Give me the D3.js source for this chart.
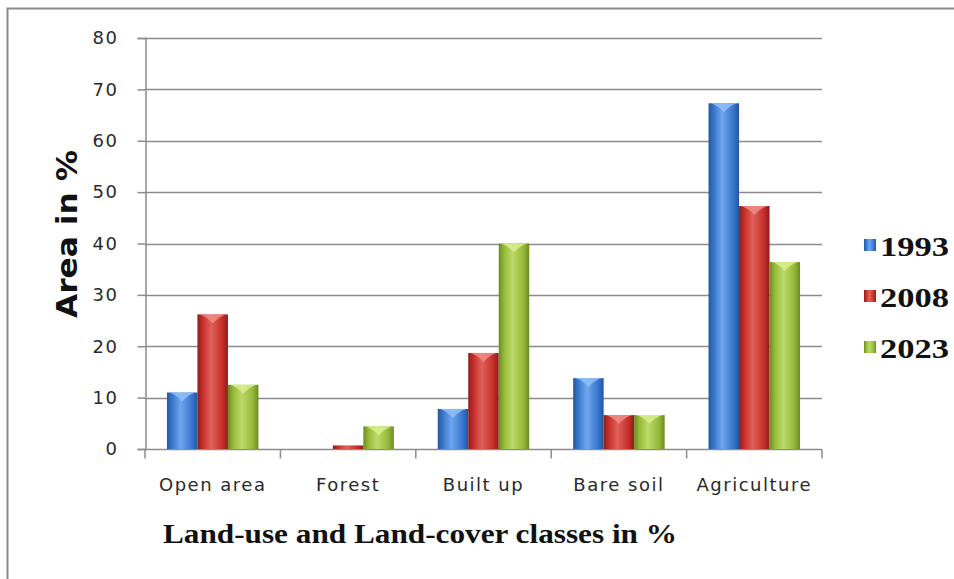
<!DOCTYPE html>
<html>
<head>
<meta charset="utf-8">
<script src="https://cdn.jsdelivr.net/npm/d3@7"></script>
<style>
  html, body { margin: 0; padding: 0; background: #fff; }
  svg { display: block; }
</style>
</head>
<body>
<svg id="chart" width="954" height="579"></svg>
<script>
// Land-use / land-cover share per class and year
const categories = ["Open area", "Forest", "Built up", "Bare soil", "Agriculture"];
const years = ["1993", "2008", "2023"];
const values1993 = [11, 0, 7.8, 13.8, 67.3];
const values2008 = [26.2, 0.7, 18.7, 6.6, 47.3];
const values2023 = [12.5, 4.4, 40, 6.6, 36.4];
const yTicks = [0, 10, 20, 30, 40, 50, 60, 70, 80];

const seriesValues = [values1993, values2008, values2023];
const colors = [
  { base: "#3a78cf", light: "#6fa6ee", dark: "#23579e", top: "#8fc0f5" },
  { base: "#c8302b", light: "#e0615b", dark: "#8f1c19", top: "#ee8d87" },
  { base: "#97bb3a", light: "#bcd96a", dark: "#6c8a22", top: "#d8ef8c" }
];

const svg = d3.select("#chart");
const plot = { left: 145, right: 822, top: 38, bottom: 449 };

// Outer frame
svg.append("rect")
  .attr("x", 7.5).attr("y", 8.5)
  .attr("width", 960).attr("height", 600)
  .attr("fill", "#fff").attr("stroke", "#8a8a8a").attr("stroke-width", 2);

const x0 = d3.scaleBand().domain(categories).range([plot.left, plot.right]).paddingInner(0).paddingOuter(0);
const x1 = d3.scaleBand().domain(years).range([0, x0.bandwidth()]).paddingInner(0).paddingOuter(0.72);
const y = d3.scaleLinear().domain([0, 80]).range([plot.bottom, plot.top]);

// Gradients for cylinder-like bars
const defs = svg.append("defs");
colors.forEach((c, i) => {
  const g = defs.append("linearGradient").attr("id", "grad" + i)
    .attr("x1", "0%").attr("x2", "100%").attr("y1", "0%").attr("y2", "0%");
  g.append("stop").attr("offset", "0%").attr("stop-color", c.dark);
  g.append("stop").attr("offset", "18%").attr("stop-color", c.base);
  g.append("stop").attr("offset", "45%").attr("stop-color", c.light);
  g.append("stop").attr("offset", "80%").attr("stop-color", c.base);
  g.append("stop").attr("offset", "100%").attr("stop-color", c.dark);
});

// Horizontal gridlines
svg.append("g").selectAll("line").data(yTicks.filter(d => d > 0)).join("line")
  .attr("x1", plot.left).attr("x2", plot.right)
  .attr("y1", d => Math.round(y(d)) + 0.5).attr("y2", d => Math.round(y(d)) + 0.5)
  .attr("stroke", "#8c8c8c").attr("stroke-width", 1.5);

// Y axis
const yAxis = d3.axisLeft(y).tickValues(yTicks).tickSize(8).tickPadding(19);
const gy = svg.append("g").attr("transform", `translate(${plot.left + 0.5},0)`).call(yAxis);
gy.select(".domain").attr("stroke", "#8c8c8c").attr("stroke-width", 1.5);
gy.selectAll(".tick line").attr("stroke", "#8c8c8c").attr("stroke-width", 1.5);
gy.selectAll(".tick text")
  .attr("font-family", "'DejaVu Sans', Verdana, sans-serif")
  .attr("font-size", 18).attr("fill", "#2a2a2a").attr("letter-spacing", 1.5);

// X axis with ticks between categories
const gx = svg.append("g").attr("transform", `translate(0,${plot.bottom + 0.5})`);
gx.append("line").attr("x1", plot.left).attr("x2", plot.right)
  .attr("stroke", "#8c8c8c").attr("stroke-width", 1.5);
const bounds = categories.map(c => x0(c)).concat([plot.right]);
gx.selectAll("line.t").data(bounds).join("line").attr("class", "t")
  .attr("x1", d => d).attr("x2", d => d).attr("y1", 0).attr("y2", 9)
  .attr("stroke", "#8c8c8c").attr("stroke-width", 1.5);
gx.selectAll("text").data(categories).join("text")
  .attr("x", d => x0(d) + x0.bandwidth() / 2).attr("y", 41)
  .attr("text-anchor", "middle")
  .attr("font-family", "'DejaVu Sans', Verdana, sans-serif")
  .attr("font-size", 18).attr("fill", "#2a2a2a").attr("letter-spacing", 1.5)
  .text(d => d);

// Bars
const barData = [];
categories.forEach((c, ci) => {
  years.forEach((yr, si) => {
    barData.push({ cat: c, year: yr, si, v: seriesValues[si][ci] });
  });
});
const bars = svg.append("g").selectAll("g").data(barData).join("g");
bars.append("rect")
  .attr("x", d => x0(d.cat) + x1(d.year))
  .attr("y", d => y(d.v))
  .attr("width", x1.bandwidth())
  .attr("height", d => y(0) - y(d.v))
  .attr("fill", d => `url(#grad${d.si})`);
// Lighter bevelled top
bars.filter(d => y(0) - y(d.v) > 8).append("path")
  .attr("d", d => {
    const bx = x0(d.cat) + x1(d.year), bw = x1.bandwidth(), by = y(d.v);
    const p = d3.path();
    p.moveTo(bx + 2, by);
    p.lineTo(bx + bw - 2, by);
    p.quadraticCurveTo(bx + bw * 0.7, by + 2, bx + bw / 2, by + 9);
    p.quadraticCurveTo(bx + bw * 0.3, by + 2, bx + 2, by);
    p.closePath();
    return p.toString();
  })
  .attr("fill", d => colors[d.si].top).attr("opacity", 0.85);

// Y axis title
svg.append("text")
  .attr("transform", "translate(77,234) rotate(-90)")
  .attr("x", -84)
  .attr("textLength", 168).attr("lengthAdjust", "spacingAndGlyphs")
  .attr("font-family", "'DejaVu Sans', Verdana, sans-serif")
  .attr("font-weight", "bold").attr("font-size", 29).attr("fill", "#111")
  .text("Area in %");

// X axis title
svg.append("text")
  .attr("x", 163).attr("y", 543)
  .attr("textLength", 514).attr("lengthAdjust", "spacingAndGlyphs")
  .attr("font-family", "'Liberation Serif', 'Times New Roman', serif")
  .attr("font-weight", "bold").attr("font-size", 27).attr("fill", "#111")
  .text("Land-use and Land-cover classes in %");

// Legend
const legend = svg.append("g").selectAll("g").data(years).join("g")
  .attr("transform", (d, i) => `translate(864,${248 + i * 51})`);
legend.append("rect").attr("x", 0).attr("y", -9).attr("width", 12).attr("height", 12)
  .attr("fill", (d, i) => `url(#grad${i})`);
legend.append("text")
  .attr("x", 16).attr("y", 8)
  .attr("textLength", 69).attr("lengthAdjust", "spacingAndGlyphs")
  .attr("font-family", "'Liberation Serif', 'Times New Roman', serif")
  .attr("font-weight", "bold").attr("font-size", 28).attr("fill", "#111")
  .text(d => d);
</script>
</body>
</html>
